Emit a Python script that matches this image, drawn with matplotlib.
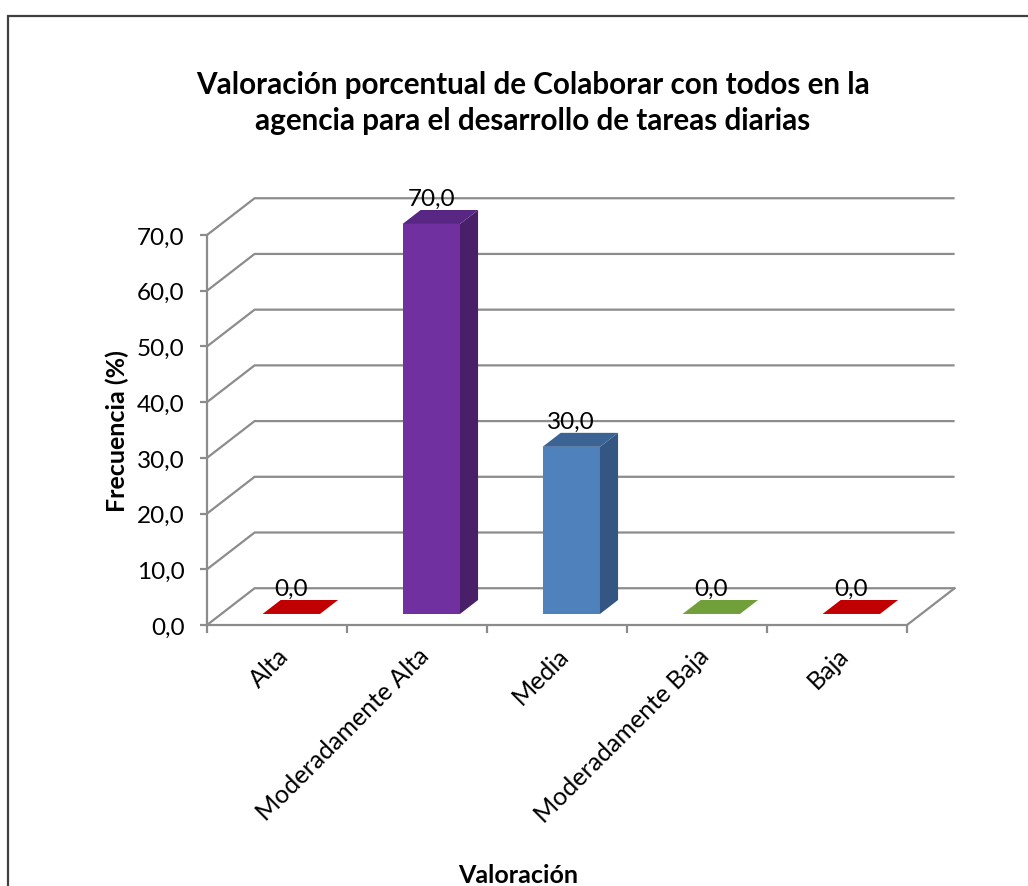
import numpy as np
import matplotlib
matplotlib.use("Agg")
import matplotlib.pyplot as plt
from matplotlib.patches import Polygon, Rectangle

plt.rcParams['font.family'] = ['Lato', 'DejaVu Sans']

# datos de la encuesta
categorias = ["Alta", "Moderadamente Alta", "Media", "Moderadamente Baja", "Baja"]
frecuencia = [0.0, 70.0, 30.0, 0.0, 0.0]
colores_frente = ["#C00000", "#7030A0", "#4F81BD", "#71A03B", "#C00000"]
colores_lado = ["#8A0000", "#4A1F6A", "#335682", "#4F7229", "#8A0000"]
colores_tapa = ["#C00000", "#582683", "#3B6394", "#71A03B", "#C00000"]
ticks_y = [0, 10, 20, 30, 40, 50, 60, 70]

# profundidad del efecto 3D (en unidades de datos)
dx, dy = 0.34, 6.6
d0, d1 = 0.30, 0.68
ancho = 0.41
gris = "#8C8C8C"

fig = plt.figure(figsize=(10.28, 8.87), dpi=100)
ax = fig.add_axes([207 / 1028, 261 / 887, 700 / 1028, 390 / 887])
ax.set_xlim(0, 5)
ax.set_ylim(0, 70)
ax.patch.set_visible(False)

# paredes: rejilla en diagonal y al fondo
for v in ticks_y:
    ax.plot([0, dx, 5 + dx], [v, v + dy, v + dy], color=gris, lw=1.6,
            clip_on=False, zorder=1, solid_capstyle='butt')
ax.plot([5, 5 + dx], [0, dy], color=gris, lw=1.6, clip_on=False, zorder=1)

# ejes frontales
for s in ['top', 'right']:
    ax.spines[s].set_visible(False)
for s in ['left', 'bottom']:
    ax.spines[s].set_color(gris)
    ax.spines[s].set_linewidth(1.6)
ax.set_yticks(ticks_y)
ax.set_yticklabels([f"{v:.1f}".replace('.', ',') for v in ticks_y])
ax.tick_params(axis='y', length=5, width=1.6, color=gris, labelsize=17.5, pad=11)
ax.set_xticks(range(6))
ax.set_xticklabels([])
ax.tick_params(axis='x', which='major', length=6, width=1.6, color=gris)
ax.set_xticks(np.arange(5) + 0.5, minor=True)
ax.set_xticklabels(categorias, minor=True, rotation=45, ha='right',
                   rotation_mode='anchor')
ax.tick_params(axis='x', which='minor', length=0, labelsize=18, pad=13)

# columnas 3D
for i, v in enumerate(frecuencia):
    x0 = i + 0.5 - ancho / 2 + dx * d0
    x1 = x0 + ancho
    y0 = dy * d0
    ox, oy = dx * (d1 - d0), dy * (d1 - d0)
    if v > 0:
        ax.add_patch(Rectangle((x0, y0), ancho, v, facecolor=colores_frente[i],
                               edgecolor='none', clip_on=False, zorder=3))
        ax.add_patch(Polygon([(x1, y0), (x1 + ox, y0 + oy), (x1 + ox, y0 + oy + v),
                              (x1, y0 + v)], closed=True, facecolor=colores_lado[i],
                             edgecolor='none', clip_on=False, zorder=3))
    ax.add_patch(Polygon([(x0, y0 + v), (x1, y0 + v), (x1 + ox, y0 + oy + v),
                          (x0 + ox, y0 + oy + v)], closed=True,
                         facecolor=colores_tapa[i], edgecolor='none',
                         clip_on=False, zorder=3))
    ax.text(i + 0.5 + dx * d0, v + dy * d1 + 2.1, f"{v:.1f}".replace('.', ','),
            ha='center', va='center', fontsize=17.5, zorder=4)

fig.text(533 / 1028, 1 - 103 / 887,
         "Valoración porcentual de Colaborar con todos en la\nagencia para el desarrollo de tareas diarias",
         ha='center', va='center', fontsize=21.3, fontweight='bold', linespacing=1.32)
fig.text(117 / 1028, 1 - 431 / 887, "Frecuencia (%)", rotation=90,
         ha='center', va='center', fontsize=18, fontweight='bold')
fig.text(518 / 1028, 1 - 876 / 887, "Valoración", ha='center', va='center',
         fontsize=18, fontweight='bold')

# marco del gráfico
fig.patches.append(Rectangle((8 / 1028, -0.05), 1.1, 1 - 17 / 887 + 0.05,
                             transform=fig.transFigure, fill=False,
                             edgecolor="#404040", linewidth=1.6))

fig.savefig("out.png", dpi=100)
